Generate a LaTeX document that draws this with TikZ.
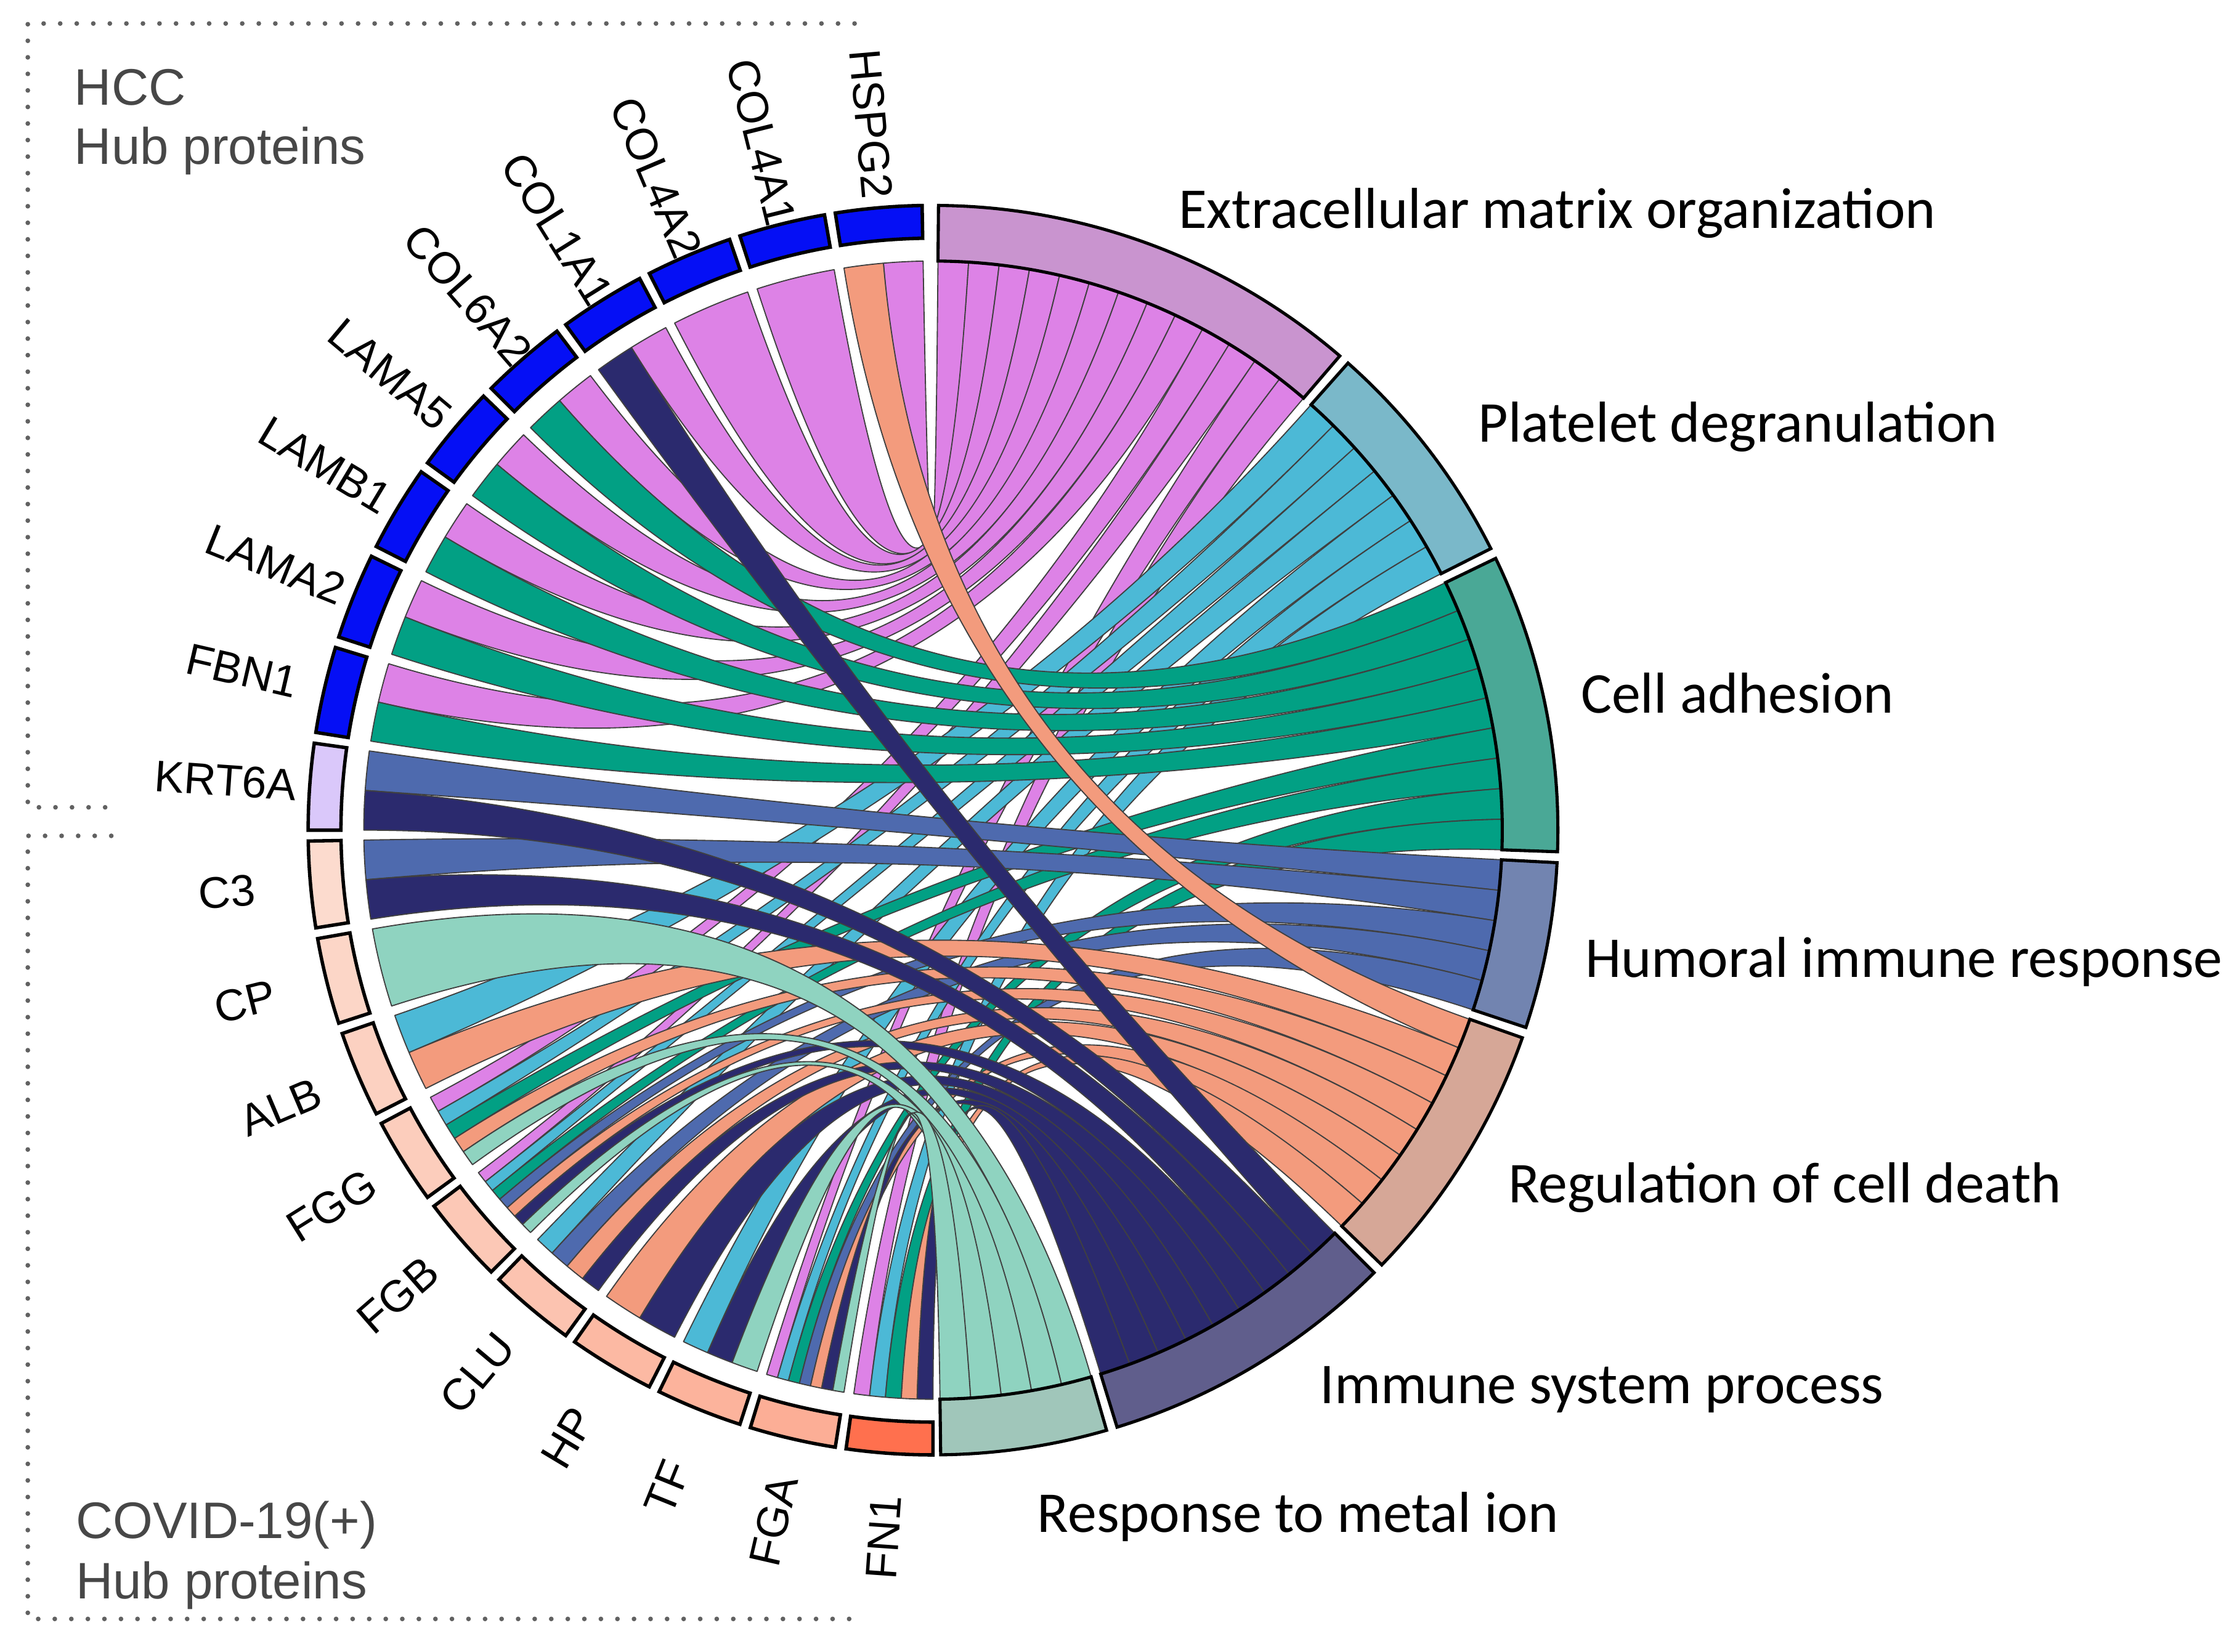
\documentclass[tikz,border=0pt]{standalone}
\usepackage{fontspec}
\setmainfont{Liberation Sans}
\newfontfamily\calib{Carlito}
% ribbon colours (by term)
\definecolor{rECM}{RGB}{221,130,230}
\definecolor{rPD}{RGB}{76,185,214}
\definecolor{rCA}{RGB}{2,160,132}
\definecolor{rHIR}{RGB}{78,106,174}
\definecolor{rRCD}{RGB}{243,155,125}
\definecolor{rISP}{RGB}{43,42,110}
\definecolor{rRMI}{RGB}{143,211,192}
% term block colours
\definecolor{tECM}{RGB}{201,148,207}
\definecolor{tPD}{RGB}{122,184,201}
\definecolor{tCA}{RGB}{74,168,150}
\definecolor{tHIR}{RGB}{114,132,176}
\definecolor{tRCD}{RGB}{214,167,151}
\definecolor{tISP}{RGB}{96,94,140}
\definecolor{tRMI}{RGB}{160,198,186}
% gene block colours
\definecolor{gHCC}{RGB}{5,15,245}
\definecolor{gKRT}{RGB}{218,200,250}
\definecolor{gC3}{RGB}{252,219,206}
\definecolor{gCP}{RGB}{252,214,199}
\definecolor{gALB}{RGB}{252,209,193}
\definecolor{gFGG}{RGB}{252,205,188}
\definecolor{gFGB}{RGB}{252,200,182}
\definecolor{gCLU}{RGB}{252,195,176}
\definecolor{gHP}{RGB}{252,185,163}
\definecolor{gTF}{RGB}{252,179,156}
\definecolor{gFGA}{RGB}{252,174,150}
\definecolor{gFN}{RGB}{255,112,78}
\tikzset{
  ribbon/.style={draw=black!75, line width=0.8pt, line join=round},
  gblock/.style={draw=black, line width=2.4pt, line join=miter},
  tblock/.style={draw=black, line width=2.2pt, line join=miter},
  glabel/.style={font=\fontsize{31pt}{37pt}\selectfont, inner sep=0pt},
  tlabel/.style={font=\calib\fontsize{40.5pt}{48pt}\selectfont, anchor=base west, inner sep=0pt},
  grouplabel/.style={font=\fontsize{36pt}{42pt}\selectfont, text=black!72, anchor=base west, inner sep=0pt},
  dotline/.style={draw=black!62, line width=3.3pt, line cap=round, dash pattern=on 0pt off 11.6pt}
}
% #1 colour, #2 gene index, #3 slot within gene, #4 slots of gene, #5 term top angle, #6 strip index
\newcommand{\chordrib}[6]{%
  \pgfmathsetmacro{\rgA}{91+9*#2+#3*8/#4}%
  \pgfmathsetmacro{\rgB}{\rgA+8/#4}%
  \pgfmathsetmacro{\rtB}{#5-#6*3.0857}%
  \pgfmathsetmacro{\rtA}{\rtB-3.0857}%
  \path[ribbon,fill=#1] (\rgA:399pt) arc[start angle=\rgA,end angle=\rgB,radius=399pt]
     .. controls (\rgB:133pt) and (\rtA:133pt) .. (\rtA:399pt)
     arc[start angle=\rtA,end angle=\rtB,radius=399pt]
     .. controls (\rtB:133pt) and (\rgA:133pt) .. cycle;}
% #1 colour, #2 top angle, #3 strips
\newcommand{\termblock}[3]{%
  \pgfmathsetmacro{\tbE}{#2-#3*3.0857}%
  \draw[tblock,fill=#1] (#2:399pt) arc[start angle=#2,end angle=\tbE,radius=399pt]
     -- (\tbE:438pt) arc[start angle=\tbE,end angle=#2,radius=438pt] -- cycle;}
\begin{document}
\begin{tikzpicture}[x=1pt,y=1pt]
\useasboundingbox (-654,-576) rectangle (914,582);

% ---------- ribbons, drawn term by term ----------
% Extracellular matrix organization (top 89.5)
\chordrib{rECM}{0}{0}{2}{89.5}{0}
\chordrib{rECM}{1}{0}{1}{89.5}{1}
\chordrib{rECM}{2}{0}{1}{89.5}{2}
\chordrib{rECM}{3}{0}{2}{89.5}{3}
\chordrib{rECM}{4}{0}{2}{89.5}{4}
\chordrib{rECM}{5}{0}{2}{89.5}{5}
\chordrib{rECM}{6}{0}{2}{89.5}{6}
\chordrib{rECM}{7}{0}{2}{89.5}{7}
\chordrib{rECM}{8}{0}{2}{89.5}{8}
\chordrib{rECM}{13}{0}{5}{89.5}{9}
\chordrib{rECM}{14}{0}{7}{89.5}{10}
\chordrib{rECM}{18}{0}{7}{89.5}{11}
\chordrib{rECM}{19}{0}{5}{89.5}{12}
% Platelet degranulation (top 48.386)
\chordrib{rPD}{12}{0}{2}{48.386}{0}
\chordrib{rPD}{13}{1}{5}{48.386}{1}
\chordrib{rPD}{14}{1}{7}{48.386}{2}
\chordrib{rPD}{15}{0}{4}{48.386}{3}
\chordrib{rPD}{17}{0}{3}{48.386}{4}
\chordrib{rPD}{18}{1}{7}{48.386}{5}
\chordrib{rPD}{19}{1}{5}{48.386}{6}
% Cell adhesion (top 25.786)
\chordrib{rCA}{4}{1}{2}{25.786}{0}
\chordrib{rCA}{5}{1}{2}{25.786}{1}
\chordrib{rCA}{6}{1}{2}{25.786}{2}
\chordrib{rCA}{7}{1}{2}{25.786}{3}
\chordrib{rCA}{8}{1}{2}{25.786}{4}
\chordrib{rCA}{13}{2}{5}{25.786}{5}
\chordrib{rCA}{14}{2}{7}{25.786}{6}
\chordrib{rCA}{18}{2}{7}{25.786}{7}
\chordrib{rCA}{19}{2}{5}{25.786}{8}
% Humoral immune response (top -2.985)
\chordrib{rHIR}{9}{0}{2}{-2.985}{0}
\chordrib{rHIR}{10}{0}{2}{-2.985}{1}
\chordrib{rHIR}{14}{3}{7}{-2.985}{2}
\chordrib{rHIR}{15}{1}{4}{-2.985}{3}
\chordrib{rHIR}{18}{3}{7}{-2.985}{4}
% Regulation of cell death (top -19.414)
\chordrib{rRCD}{0}{1}{2}{-19.414}{0}
\chordrib{rRCD}{12}{1}{2}{-19.414}{1}
\chordrib{rRCD}{13}{3}{5}{-19.414}{2}
\chordrib{rRCD}{14}{4}{7}{-19.414}{3}
\chordrib{rRCD}{15}{2}{4}{-19.414}{4}
\chordrib{rRCD}{16}{0}{2}{-19.414}{5}
\chordrib{rRCD}{18}{4}{7}{-19.414}{6}
\chordrib{rRCD}{19}{3}{5}{-19.414}{7}
% Immune system process (top -45.1)
\chordrib{rISP}{3}{1}{2}{-45.1}{0}
\chordrib{rISP}{9}{1}{2}{-45.1}{1}
\chordrib{rISP}{10}{1}{2}{-45.1}{2}
\chordrib{rISP}{14}{5}{7}{-45.1}{3}
\chordrib{rISP}{15}{3}{4}{-45.1}{4}
\chordrib{rISP}{16}{1}{2}{-45.1}{5}
\chordrib{rISP}{17}{1}{3}{-45.1}{6}
\chordrib{rISP}{18}{5}{7}{-45.1}{7}
\chordrib{rISP}{19}{4}{5}{-45.1}{8}
% Response to metal ion (top -73.871)
\chordrib{rRMI}{11}{0}{1}{-73.871}{0}
\chordrib{rRMI}{13}{4}{5}{-73.871}{1}
\chordrib{rRMI}{14}{6}{7}{-73.871}{2}
\chordrib{rRMI}{17}{2}{3}{-73.871}{3}
\chordrib{rRMI}{18}{6}{7}{-73.871}{4}

% ---------- term blocks ----------
\termblock{tECM}{89.5}{13}
\termblock{tPD}{48.386}{7}
\termblock{tCA}{25.786}{9}
\termblock{tHIR}{-2.985}{5}
\termblock{tRCD}{-19.414}{8}
\termblock{tISP}{-45.1}{9}
\termblock{tRMI}{-73.871}{5}

% ---------- gene blocks ----------
\foreach \i/\gc in {0/gHCC,1/gHCC,2/gHCC,3/gHCC,4/gHCC,5/gHCC,6/gHCC,7/gHCC,8/gHCC,9/gKRT,10/gC3,11/gCP,12/gALB,13/gFGG,14/gFGB,15/gCLU,16/gHP,17/gTF,18/gFGA,19/gFN}{
  \pgfmathsetmacro{\sa}{91+9*\i}
  \pgfmathsetmacro{\sb}{\sa+8}
  \draw[gblock,fill=\gc] (\sa:415pt) arc[start angle=\sa,end angle=\sb,radius=415pt]
     -- (\sb:438pt) arc[start angle=\sb,end angle=\sa,radius=438pt] -- cycle;
}

% ---------- gene labels ----------
\foreach \i/\nm in {0/HSPG2,1/COL4A1,2/COL4A2,3/COL1A1,4/COL6A2,5/LAMA5,6/LAMB1,7/LAMA2,8/FBN1,9/KRT6A,10/C3,11/CP,12/ALB,13/FGG,14/FGB,15/CLU,16/HP,17/TF,18/FGA,19/FN1}{
  \pgfmathsetmacro{\la}{95+9*\i}
  \pgfmathsetmacro{\lr}{\la-180}
  \node[glabel,rotate=\lr] (gl\i) at (\la:497pt) {\nm};
}

% ---------- term labels ----------
\node[tlabel] (tECMl) at (172,422) {Extracellular matrix organization};
\node[tlabel] (tPDl) at (382,272) {Platelet degranulation};
\node[tlabel] (tCAl) at (454,82) {Cell adhesion};
\node[tlabel] (tHIRl) at (457,-103) {Humoral immune response};
\node[tlabel] (tRCDl) at (403,-261) {Regulation of cell death};
\node[tlabel] (tISPl) at (271,-402) {Immune system process};
\node[tlabel] (tRMIl) at (73,-492) {Response to metal ion};

% ---------- group frames ----------
\draw[dotline] (-55,565.5) -- (-634.5,565.5) -- (-634.5,16) -- (-576,16);
\draw[dotline] (-576,-4) -- (-634.5,-4) -- (-634.5,-553) -- (-56,-553);
\node[grouplabel] (hccA) at (-602,508.5) {HCC};
\node[grouplabel] (hccB) at (-602,467) {Hub proteins};
\node[grouplabel] (covA) at (-601,-496.5) {COVID-19(+)};
\node[grouplabel] (covB) at (-601,-539) {Hub proteins};
\end{tikzpicture}
\end{document}
